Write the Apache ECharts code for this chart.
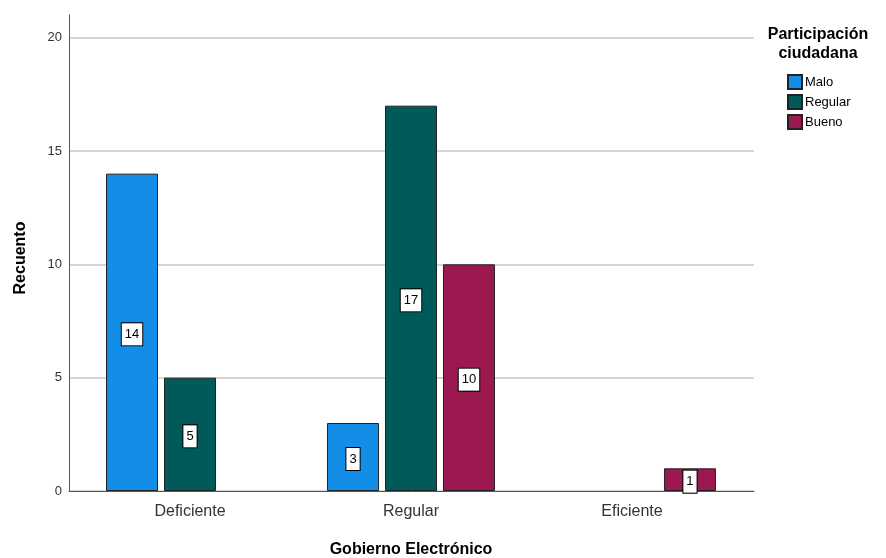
<!DOCTYPE html>
<html><head><meta charset="utf-8">
<script src="https://cdn.jsdelivr.net/npm/echarts@6/dist/echarts.min.js"></script>
<style>html,body{margin:0;padding:0;background:#fff}#c{width:886px;height:558px}</style>
</head><body><div id="c"></div>
<script>
const categories = ['Deficiente', 'Regular', 'Eficiente'];
const seriesNames = ['Malo', 'Regular', 'Bueno'];
const maloValues = [14, 3, null];
const regularValues = [5, 17, null];
const buenoValues = [null, 10, 1];
const yTicks = [0, 5, 10, 15, 20];

const colors = ['#128ee6', '#005a5a', '#9c1850'];
const FONT = '"Liberation Sans", Arial, sans-serif';
const chart = echarts.init(document.getElementById('c'));

const labelStyle = {
  show: true, position: 'inside', color: '#000', fontSize: 13, fontFamily: FONT,
  backgroundColor: '#fff', borderColor: '#000', borderWidth: 1, padding: [5, 3, 4, 3], offset: [0, 2]
};
function mk(name, data, i) {
  return {
    type: 'bar', name: name, data: data, xAxisIndex: 1, yAxisIndex: 1,
    barWidth: 52, barGap: '11.5%',
    itemStyle: { color: colors[i], borderColor: '#222', borderWidth: 1 },
    label: labelStyle
  };
}

chart.setOption({
  animation: false,
  textStyle: { fontFamily: FONT },
  title: {
    text: 'Participación\nciudadana', left: 818, top: 25, textAlign: 'center', padding: 0,
    textStyle: { fontSize: 16, fontWeight: 'bold', color: '#000', fontFamily: FONT, lineHeight: 19 }
  },
  legend: {
    orient: 'vertical', left: 787, top: 74, itemWidth: 14, itemHeight: 14, itemGap: 4, padding: 0,
    icon: 'rect', data: seriesNames,
    textStyle: { fontSize: 13, color: '#000', fontFamily: FONT, padding: [0, 0, 0, -2], lineHeight: 14 }
  },
  graphic: [
    { type: 'text', x: 21, y: 258, rotation: Math.PI / 2,
      style: { text: 'Recuento', font: 'bold 16px "Liberation Sans", Arial, sans-serif', fill: '#000',
        textAlign: 'center', textVerticalAlign: 'middle' } }
  ],
  grid: [
    { left: 69, right: 132, top: 15, bottom: 67, outerBoundsMode: 'none', containLabel: false },
    { left: 79.5, width: 663, top: 15, bottom: 67, outerBoundsMode: 'none', containLabel: false }
  ],
  xAxis: [
    { type: 'category', gridIndex: 0, data: [''], axisLine: { lineStyle: { color: '#555' } },
      axisTick: { show: false }, axisLabel: { show: false } },
    { type: 'category', gridIndex: 1, data: categories, axisLine: { show: false }, axisTick: { show: false },
      axisLabel: { fontSize: 16, color: '#333', margin: 13, fontFamily: FONT },
      name: 'Gobierno Electrónico', nameLocation: 'middle', nameGap: 51,
      nameTextStyle: { fontSize: 16, fontWeight: 'bold', color: '#000', fontFamily: FONT } }
  ],
  yAxis: [
    { type: 'value', gridIndex: 0, min: 0, max: 21, interval: 5,
      axisLine: { show: true, lineStyle: { color: '#555' } }, axisTick: { show: false },
      axisLabel: { fontSize: 13, color: '#333', margin: 7, fontFamily: FONT,
        formatter: v => yTicks.includes(v) ? String(v) : '' },
      splitLine: { show: true, showMaxLine: false, lineStyle: { color: '#c8c8c8', width: 1.5 } } },
    { type: 'value', gridIndex: 1, min: 0, max: 21, interval: 5, show: false, splitLine: { show: false } }
  ],
  series: [
    mk(seriesNames[0], maloValues, 0),
    mk(seriesNames[1], regularValues, 1),
    mk(seriesNames[2], buenoValues, 2)
  ]
});
</script></body></html>
